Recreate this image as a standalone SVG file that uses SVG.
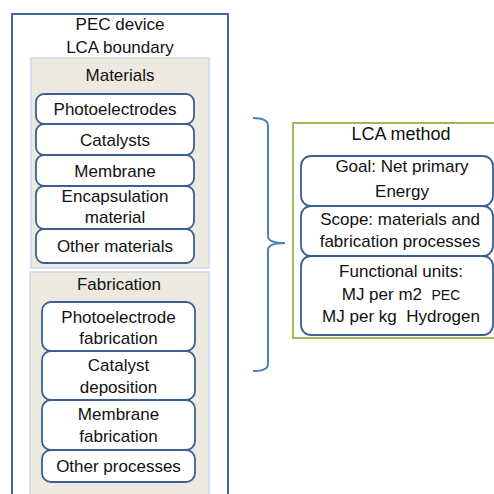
<svg xmlns="http://www.w3.org/2000/svg" width="494" height="494" viewBox="0 0 494 494">
<style>
text{font-family:"Liberation Sans",Arial,sans-serif;font-size:17px;fill:#111;text-anchor:middle}
.panel{fill:#ece9e1;stroke:#c9d8ec;stroke-width:1.5}
.box{fill:#fff;stroke:#3b5f94;stroke-width:1.8}
.small{font-size:14px}
</style>
<rect width="494" height="494" fill="#fff"/>
<g id="boundary">
<rect x="12" y="14" width="216" height="490" fill="#fff" stroke="#40679f" stroke-width="2"/>
<text x="120" y="30">PEC device</text>
<text x="120" y="53">LCA boundary</text>
</g>
<g id="materials">
<rect class="panel" x="31" y="58" width="178" height="210"/>
<text x="120" y="81">Materials</text>
</g>
<g id="photoelectrodes"><rect class="box" x="36" y="94" width="158" height="30" rx="8"/><text x="115" y="115">Photoelectrodes</text></g>
<g id="catalysts"><rect class="box" x="36" y="124" width="158" height="31" rx="8"/><text x="115" y="146">Catalysts</text></g>
<g id="membrane"><rect class="box" x="36" y="155" width="158" height="31" rx="8"/><text x="115" y="177">Membrane</text></g>
<g id="encapsulation"><rect class="box" x="36" y="186" width="158" height="43" rx="8"/><text x="115" y="202">Encapsulation</text><text x="115" y="223">material</text></g>
<g id="other-materials"><rect class="box" x="36" y="229" width="158" height="34" rx="8"/><text x="115" y="252">Other materials</text></g>
<g id="fabrication">
<rect class="panel" x="30" y="272" width="179" height="232"/>
<text x="119" y="290">Fabrication</text>
</g>
<g id="photoelectrode-fabrication"><rect class="box" x="42" y="302" width="153" height="49" rx="9"/><text x="118.5" y="323">Photoelectrode</text><text x="118.5" y="344">fabrication</text></g>
<g id="catalyst-deposition"><rect class="box" x="42" y="351" width="153" height="49" rx="9"/><text x="118.5" y="371">Catalyst</text><text x="118.5" y="393">deposition</text></g>
<g id="membrane-fabrication"><rect class="box" x="42" y="400" width="153" height="50" rx="9"/><text x="118.5" y="420">Membrane</text><text x="118.5" y="442">fabrication</text></g>
<g id="other-processes"><rect class="box" x="42" y="450" width="153" height="32" rx="9"/><text x="118.5" y="472">Other processes</text></g>
<g id="connectors">
<path d="M253,118 Q268,118 268,126 L268,236 Q268,243 285,243 Q268,243 268,250 L268,364 Q268,371 253,371" fill="none" stroke="#4f81bd" stroke-width="2"/>
</g>
<g id="lca-method">
<rect x="293" y="123" width="210" height="215" fill="#fff" stroke="#9bbb59" stroke-width="2"/>
<text x="401" y="140" style="font-size:18px">LCA method</text>
</g>
<g id="goal"><rect class="box" x="301" y="156" width="192" height="50" rx="10"/><text x="402" y="172">Goal: Net primary</text><text x="402" y="197">Energy</text></g>
<g id="scope"><rect class="box" x="301" y="206" width="192" height="50" rx="10"/><text x="400" y="225">Scope: materials and</text><text x="400" y="247">fabrication processes</text></g>
<g id="functional-units"><rect class="box" x="301" y="256" width="192" height="79" rx="10"/><text x="401" y="277">Functional units:</text><text x="401" y="300">MJ per m2&#160;&#160;<tspan class="small">PEC</tspan></text><text x="401" y="322">MJ per kg&#160;&#160;Hydrogen</text></g>
</svg>
